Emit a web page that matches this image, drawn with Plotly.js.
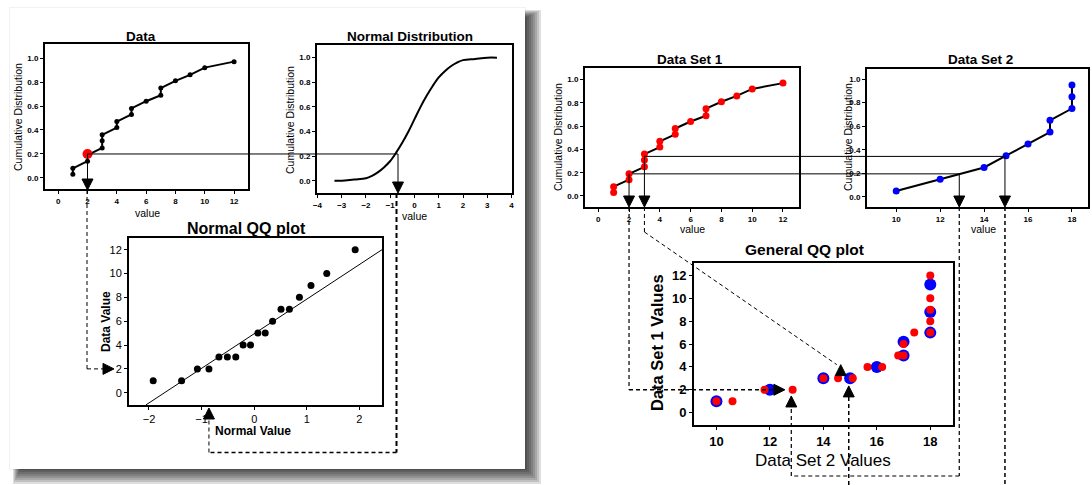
<!DOCTYPE html>
<html><head><meta charset="utf-8">
<script src="https://cdn.plot.ly/plotly-3.0.1.min.js"></script>
<style>html,body{margin:0;padding:0;background:#fff}#chart{width:1092px;height:485px}</style>
</head><body><div id="chart"></div>
<script>
// ---------------- data ----------------
const dataValues = [1,1,2,2,3,3,3,4,4,5,5,6,7,7,8,9,10,12];
const dataCum = [0.03,0.08,0.14,0.19,0.25,0.31,0.36,0.42,0.47,0.53,0.58,0.64,0.69,0.75,0.81,0.86,0.92,0.97];
const highlightValue = [2];
const highlightCum = [0.2];

const normalX = [-3.3,-3,-2.5,-2,-1.75,-1.5,-1.25,-1,-0.75,-0.5,-0.25,0,0.25,0.5,0.75,1,1.25,1.5,1.75,2,2.5,3,3.4];
const normalCdf = [0.0,0.0,0.01,0.02,0.04,0.07,0.11,0.16,0.23,0.31,0.40,0.50,0.60,0.69,0.77,0.84,0.89,0.93,0.96,0.98,0.99,1.0,1.0];

const normalScores = [-1.92,-1.38,-1.08,-0.86,-0.67,-0.51,-0.35,-0.21,-0.07,0.07,0.21,0.35,0.51,0.67,0.86,1.08,1.38,1.92];
const qqDataValues = [1,1,2,2,3,3,3,4,4,5,5,6,7,7,8,9,10,12];
const refLineX = [-2.06, 2.43];
const refLineY = [-1.03, 12.0];

const set1Values = [1,1,2,2,3,3,3,4,4,5,5,6,7,7,8,9,10,12];
const set1Cum = [0.03,0.08,0.14,0.19,0.25,0.31,0.36,0.42,0.47,0.53,0.58,0.64,0.69,0.75,0.81,0.86,0.92,0.97];
const set2Values = [10,12,14,15,16,17,17,18,18,18];
const set2Cum = [0.05,0.15,0.25,0.35,0.45,0.55,0.65,0.75,0.85,0.95];

const gqqBlueX = [10,12,14,15,16,17,17,18,18,18];
const gqqBlueY = [1,2,3,3,4,5,6.2,7,8.8,11.2];
const gqqRedX = [10,10.6,11.8,12.85,14,14.55,15.1,15.65,16.2,16.8,17,17,17.4,18,18,18,18,18];
const gqqRedY = [1,1,2,2,3,3,3,4,4,5,5,6,7,7,8,9,10,12];

// tick labels
const cumTicks = [0,0.2,0.4,0.6,0.8,1.0];
const dataTicks = [0,2,4,6,8,10,12];
const normalTicks = [-4,-3,-2,-1,0,1,2,3,4];
const nqqTicksX = [-2,-1,0,1,2];
const nqqTicksY = [0,2,4,6,8,10,12];
const set2Ticks = [10,12,14,16,18];
const gqqTicksX = [10,12,14,16,18];
const gqqTicksY = [0,2,4,6,8,10,12];

// ---------------- layout geometry ----------------
const W = 1092, H = 485;
const FONT = 'Liberation Sans, Arial, sans-serif';
const boxes = {
  data: {l:45, r:248, t:44, b:189, xr:[-0.9,12.95], yr:[-0.092,1.117]},
  norm: {l:317, r:512, t:45, b:193, xr:[-4.02,4.02], yr:[-0.1,1.103]},
  nqq:  {l:129, r:382, t:238, b:405, xr:[-2.38,2.43], yr:[-1.03,12.98]},
  ds1:  {l:585, r:799, t:68, b:207, xr:[-0.86,13.04], yr:[-0.095,1.1]},
  ds2:  {l:867, r:1088, t:69, b:207, xr:[8.67,18.73], yr:[-0.085,1.085]},
  gqq:  {l:694, r:953, t:263, b:425, xr:[9.16,18.85], yr:[-1.08,13.09]}
};
function toPix(k, x, y) {
  const b = boxes[k];
  return [b.l + (x - b.xr[0]) / (b.xr[1] - b.xr[0]) * (b.r - b.l),
          b.b - (y - b.yr[0]) / (b.yr[1] - b.yr[0]) * (b.b - b.t)];
}
function axis(k, dir, tickvals, fsize, bold, fmt, anchor) {
  const b = boxes[k];
  const a = {
    range: dir === 'x' ? b.xr : b.yr,
    domain: dir === 'x' ? [b.l / W, b.r / W] : [1 - b.b / H, 1 - b.t / H],
    anchor: anchor,
    showline: true, mirror: true, linecolor: '#000', linewidth: 2,
    ticks: 'outside', ticklen: 3, tickwidth: 1, tickcolor: '#000',
    tickvals: tickvals,
    tickfont: {family: FONT, size: fsize, color: '#000', weight: bold ? 'bold' : 'normal'},
    showgrid: false, zeroline: false, fixedrange: true
  };
  if (fmt) a.tickformat = fmt;
  return a;
}

const traces = [
  {x: dataValues, y: dataCum, xaxis: 'x', yaxis: 'y', mode: 'lines+markers',
   line: {color: '#000', width: 2}, marker: {color: '#000', size: 5}},
  {x: highlightValue, y: highlightCum, xaxis: 'x', yaxis: 'y', mode: 'markers',
   marker: {color: '#ff0000', size: 10, symbol: 'circle'}},
  {x: normalX, y: normalCdf, xaxis: 'x2', yaxis: 'y2', mode: 'lines',
   line: {color: '#000', width: 2, shape: 'spline'}},
  {x: refLineX, y: refLineY, xaxis: 'x3', yaxis: 'y3', mode: 'lines',
   line: {color: '#000', width: 1}},
  {x: normalScores, y: qqDataValues, xaxis: 'x3', yaxis: 'y3', mode: 'markers',
   marker: {color: '#000', size: 7}},
  {x: set1Values, y: set1Cum, xaxis: 'x4', yaxis: 'y4', mode: 'lines+markers',
   line: {color: '#000', width: 2}, marker: {color: '#ff0000', size: 7}},
  {x: set2Values, y: set2Cum, xaxis: 'x5', yaxis: 'y5', mode: 'lines+markers',
   line: {color: '#000', width: 2}, marker: {color: '#0000ff', size: 7}},
  {x: gqqBlueX, y: gqqBlueY, xaxis: 'x6', yaxis: 'y6', mode: 'markers',
   marker: {color: '#0000ff', size: 12}},
  {x: gqqRedX, y: gqqRedY, xaxis: 'x6', yaxis: 'y6', mode: 'markers',
   marker: {color: '#ff0000', size: 8}}
];

// ---------------- connectors ----------------
const shapes = [];
// left card shadow + card
for (let i = 0; i < 8; i++) {
  shapes.push({type: 'rect', xref: 'paper', yref: 'paper', layer: 'below',
    x0: (13 + i) / W, x1: (541 - i * 2) / W, y0: 1 - (484 - i * 2) / H, y1: 1 - (10 + i) / H,
    fillcolor: 'rgba(0,0,0,0.13)', line: {width: 0}});
}
shapes.push({type: 'rect', xref: 'paper', yref: 'paper', layer: 'below',
  x0: 9 / W, x1: 526 / W, y0: 1 - 470 / H, y1: 1 - 7 / H,
  fillcolor: 'rgba(0,0,0,0.05)', line: {width: 0}});
shapes.push({type: 'rect', xref: 'paper', yref: 'paper', layer: 'below',
  x0: 10 / W, x1: 525 / W, y0: 1 - 469 / H, y1: 1 - 8 / H,
  fillcolor: '#ffffff', line: {width: 0}});

function seg(a, b, dash, w) {
  return {type: 'line', xref: 'paper', yref: 'paper',
    x0: a[0] / W, y0: 1 - a[1] / H, x1: b[0] / W, y1: 1 - b[1] / H,
    line: {color: '#000', width: w || 1, dash: dash || 'solid'}};
}
function tri(tip, dir, s) {
  s = s || 11; let p;
  if (dir === 'down') p = [[tip[0] - s / 2, tip[1] - s], [tip[0] + s / 2, tip[1] - s], tip];
  else if (dir === 'up') p = [[tip[0] - s / 2, tip[1] + s], [tip[0] + s / 2, tip[1] + s], tip];
  else p = [[tip[0] - s, tip[1] - s / 2], [tip[0] - s, tip[1] + s / 2], tip];
  const path = 'M' + p.map(q => (q[0] / W) + ',' + (1 - q[1] / H)).join('L') + 'Z';
  return {type: 'path', xref: 'paper', yref: 'paper', path: path,
    fillcolor: '#000', line: {color: '#000', width: 1}};
}
const DASH = '4px,3px';

// Left panel
const hp = toPix('data', 2, 0.2);
const nx = toPix('norm', -0.68, 0)[0];
const dataBottom = boxes.data.b + 1, normBottom = boxes.norm.b;
shapes.push(seg(hp, [nx, hp[1]]));
shapes.push(seg(hp, [hp[0], dataBottom - 8]));
shapes.push(tri([hp[0], dataBottom], 'down'));
shapes.push(seg([nx, hp[1]], [nx, normBottom - 8]));
shapes.push(tri([nx, normBottom], 'down'));
const qqY2 = toPix('nqq', 0, 2)[1];
shapes.push(seg([hp[0] - 0.5, dataBottom], [hp[0] - 0.5, qqY2], DASH, 1));
shapes.push(seg([hp[0] - 0.5, qqY2], [boxes.nqq.l - 26, qqY2], DASH, 1));
shapes.push(tri([boxes.nqq.l - 15, qqY2], 'right'));
const qqX = toPix('nqq', -0.86, 0)[0];
shapes.push(seg([nx - 1.5, normBottom], [nx - 1.5, 452.5], '5px,3px', 2));
shapes.push(seg([nx - 1.5, 452.5], [qqX, 452.5], DASH, 1.5));
shapes.push(seg([qqX, 452.5], [qqX, boxes.nqq.b + 13], DASH, 1));
shapes.push(tri([qqX, boxes.nqq.b + 3], 'up'));

// Right panel
const A = toPix('ds1', 2, 0.19), B = toPix('ds1', 3, 0.34);
const cA = toPix('ds2', 12.87, 0)[0], cB = toPix('ds2', 14.95, 0)[0];
const ds1B = boxes.ds1.b, ds2B = boxes.ds2.b;
shapes.push(seg([A[0] + 3, A[1]], [cA, A[1]]));
shapes.push(seg(B, [cB, B[1]]));
shapes.push(seg(A, [A[0], ds1B - 8]));  shapes.push(tri([A[0], ds1B], 'down'));
shapes.push(seg(B, [B[0], ds1B - 8]));  shapes.push(tri([B[0], ds1B], 'down'));
shapes.push(seg([cA, A[1]], [cA, ds2B - 8])); shapes.push(tri([cA, ds2B], 'down'));
shapes.push(seg([cB, B[1]], [cB, ds2B - 8])); shapes.push(tri([cB, ds2B], 'down'));
// dashed routes
const g2 = toPix('gqq', 12.56, 2);
shapes.push(seg([A[0], ds1B], [A[0], g2[1]], DASH, 1.2));
shapes.push(seg([A[0], g2[1]], [g2[0] - 10, g2[1]], DASH, 1.5));
shapes.push(tri(g2, 'right'));
const gD = toPix('gqq', 14.65, 4.2);
shapes.push(seg([B[0], ds1B], [B[0], 232], DASH, 1));
shapes.push(seg([B[0], 232], [gD[0] - 4, gD[1]], DASH, 1));
shapes.push(tri(gD, 'up'));
const gU1 = toPix('gqq', 12.8, 1.46);
shapes.push(seg([cA, ds2B], [cA, 476], DASH, 1.2));
shapes.push(seg([cA, 476], [gU1[0], 476], DASH, 1.2));
shapes.push(seg([gU1[0], 476], [gU1[0], gU1[1] + 10], DASH, 1.2));
shapes.push(tri(gU1, 'up'));
const gU2 = toPix('gqq', 14.95, 2.34);
shapes.push(seg([cB, ds2B], [cB, H], DASH, 1.5));
shapes.push(seg([gU2[0], H], [gU2[0], gU2[1] + 10], DASH, 1.5));
shapes.push(tri(gU2, 'up'));

// ---------------- text ----------------
function txt(x, y, text, size, bold, angle) {
  return {xref: 'paper', yref: 'paper', x: x / W, y: 1 - y / H, text: bold ? '<b>' + text + '</b>' : text,
    showarrow: false, xanchor: 'center', yanchor: 'middle', textangle: angle || 0,
    font: {family: FONT, size: size, color: '#000'}};
}
const annotations = [
  txt(141, 37, 'Data', 13.5, true),
  txt(410, 37, 'Normal Distribution', 13.5, true),
  txt(246, 228, 'Normal QQ plot', 16, true),
  txt(690, 59, 'Data Set 1', 13.5, true),
  txt(980, 59, 'Data Set 2', 13.5, true),
  txt(804, 250, 'General QQ plot', 15.5, true),
  txt(18, 117, 'Cumulative Distribution', 10.5, false, -90),
  txt(147, 213, 'value', 10.5),
  txt(290, 120, 'Cumulative Distribution', 10.5, false, -90),
  txt(414, 216, 'value', 10.5),
  txt(106, 322, 'Data Value', 12, true, -90),
  txt(253, 431, 'Normal Value', 12, true),
  txt(558, 137, 'Cumulative Distribution', 10.5, false, -90),
  txt(692, 229, 'value', 10.5),
  txt(848, 137, 'Cumulative Distribution', 10.5, false, -90),
  txt(983, 229, 'value', 10.5),
  txt(657, 343, 'Data Set 1 Values', 16.5, true, -90),
  txt(823, 460, 'Data Set 2 Values', 17)
];

const layout = {
  width: W, height: H, margin: {l: 0, r: 0, t: 0, b: 0},
  paper_bgcolor: '#ffffff', plot_bgcolor: '#ffffff', showlegend: false,
  font: {family: FONT, color: '#000'},
  xaxis:  axis('data', 'x', dataTicks, 8, true, null, 'y'),
  yaxis:  axis('data', 'y', cumTicks, 8, true, '.1f', 'x'),
  xaxis2: axis('norm', 'x', normalTicks, 8, true, null, 'y2'),
  yaxis2: axis('norm', 'y', cumTicks, 8, true, '.1f', 'x2'),
  xaxis3: axis('nqq', 'x', nqqTicksX, 11, false, null, 'y3'),
  yaxis3: axis('nqq', 'y', nqqTicksY, 11, false, null, 'x3'),
  xaxis4: axis('ds1', 'x', dataTicks, 8, true, null, 'y4'),
  yaxis4: axis('ds1', 'y', cumTicks, 8, true, '.1f', 'x4'),
  xaxis5: axis('ds2', 'x', set2Ticks, 8, true, null, 'y5'),
  yaxis5: axis('ds2', 'y', cumTicks, 8, true, '.1f', 'x5'),
  xaxis6: axis('gqq', 'x', gqqTicksX, 13, true, null, 'y6'),
  yaxis6: axis('gqq', 'y', gqqTicksY, 13, true, null, 'x6'),
  shapes: shapes, annotations: annotations
};
Plotly.newPlot('chart', traces, layout, {displayModeBar: false, staticPlot: true});
</script></body></html>
